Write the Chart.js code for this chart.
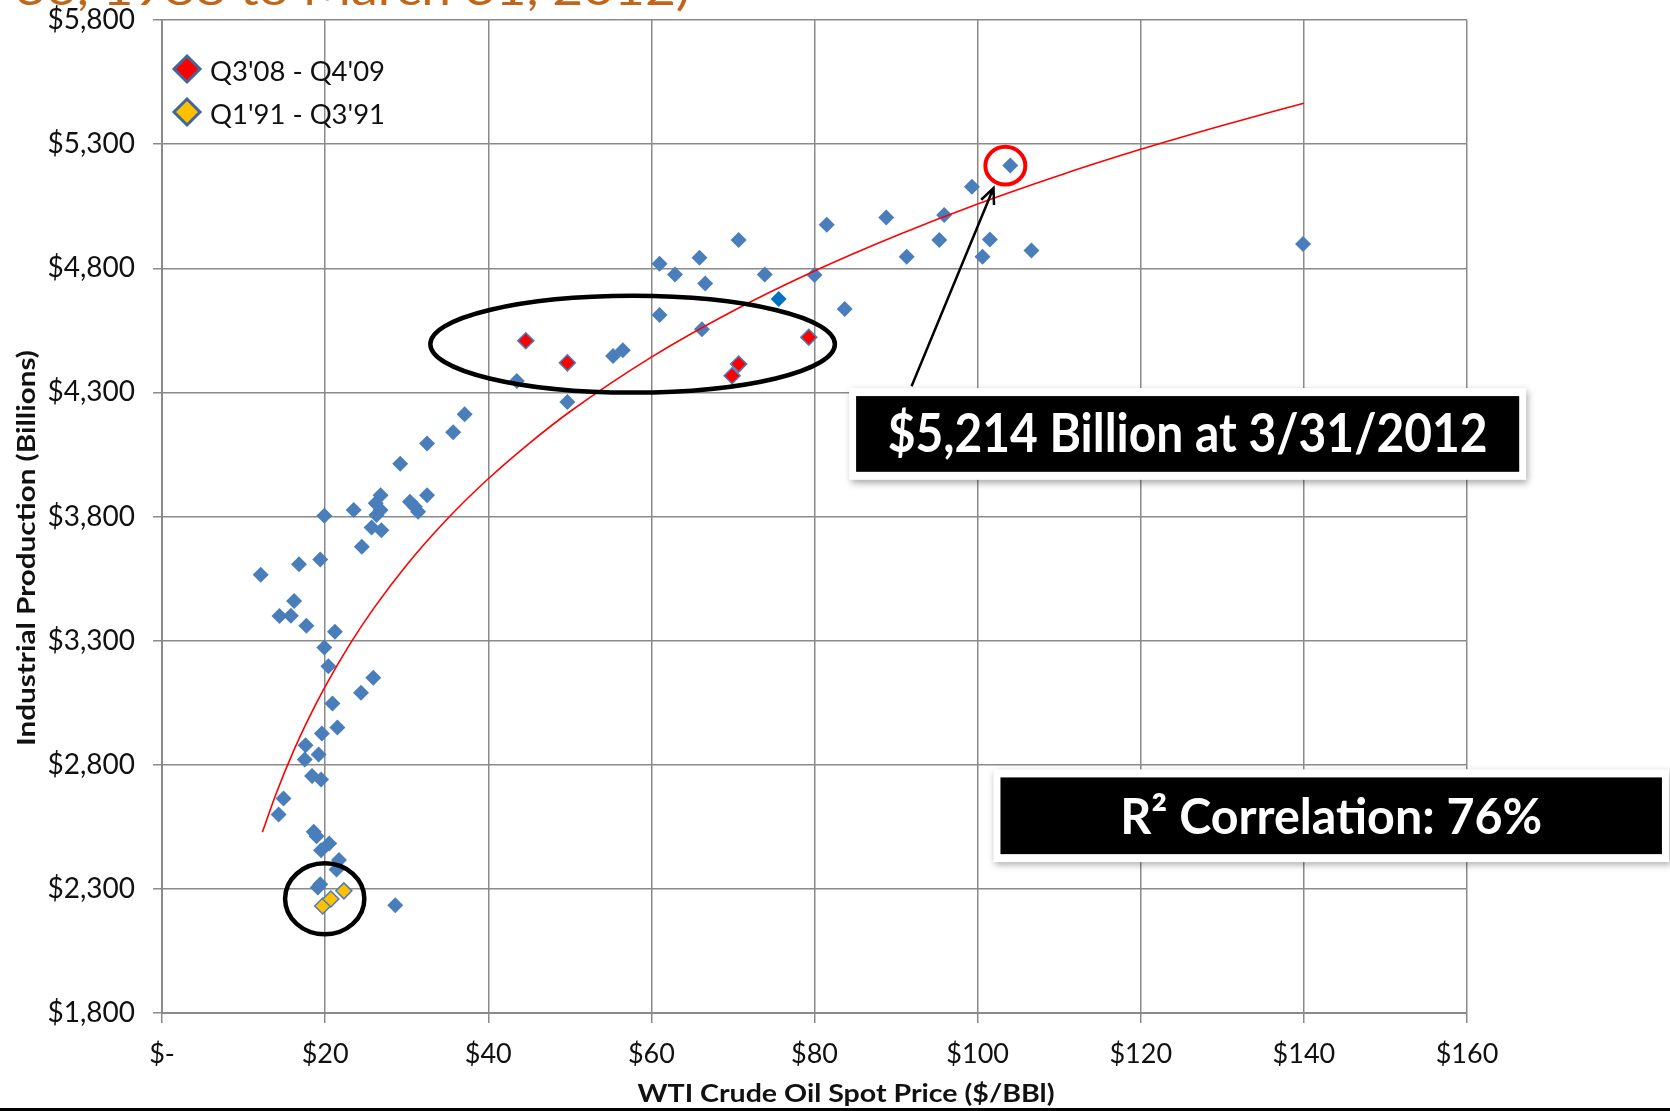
<!DOCTYPE html>
<html>
<head>
<meta charset="utf-8">
<script src="https://cdn.jsdelivr.net/npm/chart.js@4.4.1/dist/chart.umd.min.js"></script>
<style>
  html, body { margin: 0; padding: 0; background: #fff; }
  #wrap { width: 1670px; height: 1111px; }
</style>
</head>
<body>
<div id="wrap"><canvas id="chart" width="1670" height="1111"></canvas></div>
<script>
// WTI crude spot price ($/bbl) vs industrial production ($ billions), quarterly
const blueX = [12.1, 14.4, 15.8, 16.2, 16.8, 17.7, 19.4, 19.9, 21.2, 19.9, 20.4, 25.9, 24.4, 20.9,
  21.5, 19.6, 17.6, 19.2, 17.5, 18.4, 19.5, 14.9, 14.3, 18.6, 18.95, 20.5, 19.5, 21.7, 21.4,
  19.4, 19.1, 28.6, 23.5, 26.8, 26.2, 26.8, 26.3, 25.7, 26.9, 32.5, 30.4, 31.0, 31.4, 24.5,
  29.2, 32.5, 35.7, 37.1, 43.5, 49.7, 55.3, 56.5, 61.0, 66.2, 61.0, 65.9, 62.9, 66.6, 70.7,
  73.9, 80.0, 83.7, 81.5, 88.8, 95.9, 99.3, 95.3, 91.3, 101.5, 100.6, 106.6, 139.9, 104.0];
const blueY = [3565, 3399, 3400, 3460, 3608, 3360, 3627, 3803, 3336, 3272, 3197, 3150, 3090, 3047,
  2950, 2926, 2879, 2841, 2821, 2755, 2741, 2664, 2600, 2530, 2512, 2483, 2456, 2416, 2378,
  2319, 2306, 2234, 3826, 3886, 3853, 3826, 3806, 3756, 3745, 3886, 3859, 3839, 3819, 3678,
  4012, 4094, 4139, 4212, 4346, 4261, 4447, 4470, 4612, 4554, 4818, 4842, 4775, 4739, 4914,
  4775, 4773, 4636, 4975, 5004, 5014, 5128, 4914, 4846, 4916, 4846, 4871, 4898, 5214];

const darkX = [75.6];
const darkY = [4676];

// Q3'08 - Q4'09
const redX = [44.6, 49.7, 69.9, 70.7, 79.3];
const redY = [4508, 4419, 4367, 4414, 4522];

// Q1'91 - Q3'91
const yellowX = [19.7, 20.7, 22.3];
const yellowY = [2231, 2259, 2292];

// logarithmic trend line
const trendX = [12.3, 14, 16, 18, 20, 23, 26, 30, 35, 40, 45, 50, 60, 70, 80, 90, 100, 110, 120, 130, 140];
const trendY = [2528, 2684, 2846, 2988, 3115, 3284, 3432, 3605, 3791, 3952, 4094, 4222, 4442, 4628,
  4789, 4931, 5059, 5174, 5279, 5375, 5465];

const xTickValues = [0, 20, 40, 60, 80, 100, 120, 140, 160];
const xTickLabels = ['$-', '$20', '$40', '$60', '$80', '$100', '$120', '$140', '$160'];
const yTickValues = [1800, 2300, 2800, 3300, 3800, 4300, 4800, 5300, 5800];
const yTickLabels = ['$1,800', '$2,300', '$2,800', '$3,300', '$3,800', '$4,300', '$4,800', '$5,300', '$5,800'];

const FONT = 'Lato, "Open Sans", sans-serif';
const BLUE = '#4a7ebb';
const GRID = '#8a8a8a';

function pts(xs, ys) {
    return xs.map((x, i) => ({ x: x, y: ys[i] }));
}

// draw text squeezed/stretched to a given width (Calibri is narrower than Lato)
function fitText(ctx, text, x, y, width, font, align, rot) {
    ctx.save();
    ctx.font = font;
    const w = ctx.measureText(text).width;
    ctx.translate(x, y);
    if (rot) ctx.rotate(rot);
    ctx.scale(width / w, 1);
    ctx.textAlign = align || 'center';
    ctx.textBaseline = 'alphabetic';
    ctx.fillText(text, 0, 0);
    ctx.restore();
}

function diamond(ctx, x, y, r, fill, stroke, lw) {
    ctx.beginPath();
    ctx.moveTo(x, y - r);
    ctx.lineTo(x + r, y);
    ctx.lineTo(x, y + r);
    ctx.lineTo(x - r, y);
    ctx.closePath();
    ctx.fillStyle = fill;
    ctx.fill();
    ctx.lineWidth = lw;
    ctx.strokeStyle = stroke;
    ctx.stroke();
}

const bgPlugin = {
    id: 'bg',
    beforeDraw(chart) {
        const ctx = chart.ctx;
        ctx.save();
        ctx.fillStyle = '#fff';
        ctx.fillRect(0, 0, chart.width, chart.height);
        ctx.restore();
    }
};

const notesPlugin = {
    id: 'notes',
    afterDraw(chart) {
        const ctx = chart.ctx;
        const xs = chart.scales.x, ys = chart.scales.y;
        const px = v => xs.getPixelForValue(v);
        const py = v => ys.getPixelForValue(v);
        const area = chart.chartArea;
        ctx.save();

        // cut-off title at the top
        ctx.fillStyle = '#c0661a';
        fitText(ctx, '30, 1988 to March 31, 2012)', 15, 5, 675, '44px ' + FONT, 'left');

        // legend
        const items = [
            { label: "Q3'08 - Q4'09", fill: '#ff0000', dy: 49 },
            { label: "Q1'91 - Q3'91", fill: '#ffc000', dy: 92 }
        ];
        items.forEach(it => {
            diamond(ctx, area.left + 25, area.top + it.dy, 13, it.fill, '#41679a', 3);
            ctx.fillStyle = '#111';
            fitText(ctx, it.label, area.left + 48, area.top + it.dy + 12, 175, '27px ' + FONT, 'left');
        });

        // axis titles
        ctx.fillStyle = '#111';
        fitText(ctx, 'WTI Crude Oil Spot Price ($/BBl)', 846, 1102, 417, 'bold 25px ' + FONT, 'center');
        fitText(ctx, 'Industrial Production (Billions)', 35, 548, 396, 'bold 25px ' + FONT, 'center', -Math.PI / 2);

        // ellipses around the highlighted periods
        ctx.strokeStyle = '#000';
        ctx.lineWidth = 4.5;
        ctx.beginPath();
        ctx.ellipse(px(57.7), py(4494), px(57.7 + 24.8) - px(57.7), py(4494) - py(4494 + 195), 0, 0, Math.PI * 2);
        ctx.stroke();
        ctx.beginPath();
        ctx.ellipse(px(19.95), py(2260), px(19.95 + 4.86) - px(19.95), py(2260) - py(2260 + 143), 0, 0, Math.PI * 2);
        ctx.stroke();

        // red circle on the latest quarter
        ctx.strokeStyle = '#ff0000';
        ctx.lineWidth = 4;
        ctx.beginPath();
        ctx.ellipse(px(103.4), py(5213), px(103.4 + 2.45) - px(103.4), py(5213) - py(5213 + 76), 0, 0, Math.PI * 2);
        ctx.stroke();

        // arrow
        const ax0 = px(91.9), ay0 = py(4325), ax1 = px(101.95), ay1 = py(5123);
        const ang = Math.atan2(ay1 - ay0, ax1 - ax0);
        ctx.strokeStyle = '#000';
        ctx.lineWidth = 2.5;
        ctx.beginPath();
        ctx.moveTo(ax0, ay0);
        ctx.lineTo(ax1, ay1);
        ctx.moveTo(ax1 - 17 * Math.cos(ang - 0.42), ay1 - 17 * Math.sin(ang - 0.42));
        ctx.lineTo(ax1, ay1);
        ctx.lineTo(ax1 - 17 * Math.cos(ang + 0.42), ay1 - 17 * Math.sin(ang + 0.42));
        ctx.stroke();

        // callout boxes
        const boxes = [
            { x1: 85.1, x2: 166.4, y1: 4285, y2: 3980, base: 4061, text: '$5,214 Billion at 3/31/2012', w: 600, size: 54 },
            { x1: 102.8, x2: 183.9, y1: 2749, y2: 2440, base: 2520, text: 'R\u00b2 Correlation: 76%', w: 422, size: 49 }
        ];
        boxes.forEach(b => {
            const l = px(b.x1), r = px(b.x2), t = py(b.y1), btm = py(b.y2);
            ctx.save();
            ctx.shadowColor = 'rgba(0,0,0,0.35)';
            ctx.shadowBlur = 7;
            ctx.shadowOffsetX = 2;
            ctx.shadowOffsetY = 3;
            ctx.fillStyle = '#fff';
            ctx.fillRect(l - 7, t - 8, r - l + 14, btm - t + 16);
            ctx.restore();
            ctx.fillStyle = '#000';
            ctx.fillRect(l, t, r - l, btm - t);
            ctx.fillStyle = '#fff';
            fitText(ctx, b.text, (l + r) / 2, py(b.base), b.w, 'bold ' + b.size + 'px ' + FONT, 'center');
        });

        // slide edge at the bottom
        ctx.fillStyle = '#000';
        ctx.fillRect(0, 1108, chart.width, 3);
        ctx.restore();
    }
};

const scatterPoint = { pointStyle: 'rectRot', pointRadius: 8, pointHoverRadius: 8 };

new Chart(document.getElementById('chart'), {
    type: 'scatter',
    data: {
        datasets: [
            {
                label: 'Trend',
                data: pts(trendX, trendY),
                showLine: true,
                borderColor: '#ff0000',
                borderWidth: 1.6,
                pointRadius: 0,
                cubicInterpolationMode: 'monotone',
                order: 0
            },
            Object.assign({
                label: "Q3'08 - Q4'09",
                data: pts(redX, redY),
                backgroundColor: '#ff0000',
                borderColor: BLUE,
                borderWidth: 1.5,
                order: 1
            }, scatterPoint),
            Object.assign({
                label: "Q1'91 - Q3'91",
                data: pts(yellowX, yellowY),
                backgroundColor: '#ffc000',
                borderColor: BLUE,
                borderWidth: 1.5,
                order: 1
            }, scatterPoint),
            Object.assign({
                label: 'Latest',
                data: pts(darkX, darkY),
                backgroundColor: '#0070c0',
                borderColor: '#0070c0',
                borderWidth: 0,
                order: 2
            }, scatterPoint),
            Object.assign({
                label: 'Industrial Production',
                data: pts(blueX, blueY),
                backgroundColor: BLUE,
                borderColor: BLUE,
                borderWidth: 0,
                order: 3
            }, scatterPoint)
        ]
    },
    options: {
        responsive: false,
        animation: false,
        devicePixelRatio: 1,
        layout: { padding: { top: 20, right: 203, left: 0, bottom: 0 } },
        plugins: { legend: { display: false }, tooltip: { enabled: false } },
        scales: {
            x: {
                type: 'linear',
                min: 0,
                max: 160,
                afterBuildTicks: s => { s.ticks = xTickValues.map(v => ({ value: v })); },
                ticks: {
                    callback: v => xTickLabels[xTickValues.indexOf(v)],
                    font: { family: FONT, size: 27 },
                    color: '#111',
                    padding: 15,
                    maxRotation: 0,
                    autoSkip: false
                },
                grid: { color: GRID, lineWidth: 1.5, tickLength: 10 },
                border: { color: GRID, width: 2 },
                afterFit: s => { s.height = 98; s.paddingLeft = 0; s.paddingRight = 0; }
            },
            y: {
                min: 1800,
                max: 5800,
                afterBuildTicks: s => { s.ticks = yTickValues.map(v => ({ value: v })); },
                ticks: {
                    callback: v => yTickLabels[yTickValues.indexOf(v)],
                    font: { family: FONT, size: 28 },
                    color: '#111',
                    padding: 18,
                    autoSkip: false
                },
                grid: { color: GRID, lineWidth: 1.5, tickLength: 9 },
                border: { color: GRID, width: 2 },
                afterFit: s => { s.width = 162; s.paddingTop = 0; s.paddingBottom = 0; }
            }
        }
    },
    plugins: [bgPlugin, notesPlugin]
});
</script>
</body>
</html>
